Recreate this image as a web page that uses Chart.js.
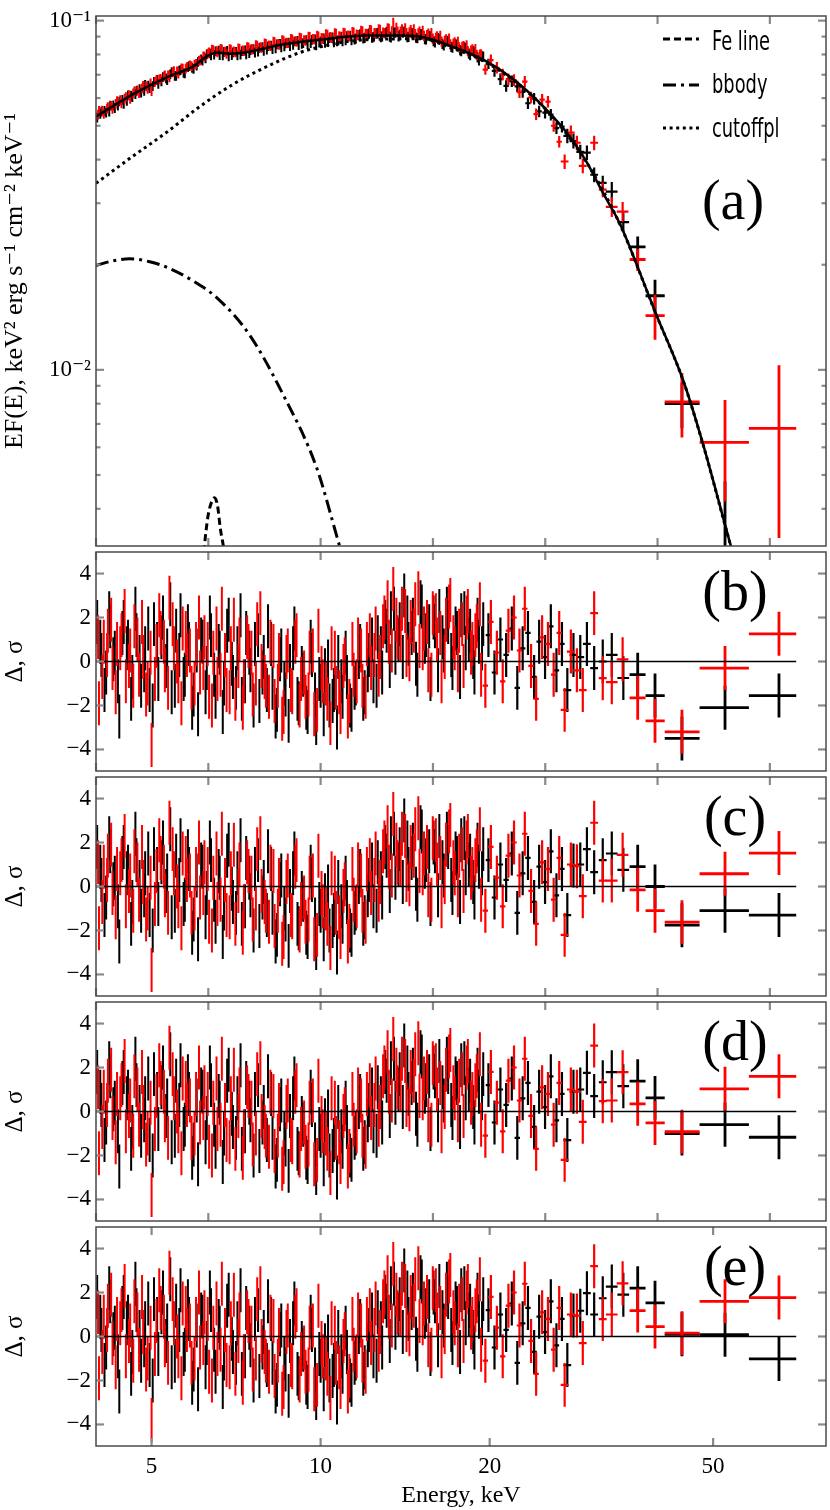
<!DOCTYPE html>
<html>
<head>
<meta charset="utf-8">
<script src="https://cdn.jsdelivr.net/npm/chart.js@4.4.1/dist/chart.umd.min.js"></script>
<style>
html,body{margin:0;padding:0;background:#fff;width:830px;height:1510px;overflow:hidden;position:relative;}
canvas{position:absolute;left:0;}
</style>
</head>
<body>
<script>
// ---------------- DATA ----------------
const X_MIN = 3.981, X_MAX = 79.43;
const X_TICKS_UPPER = [3.981, 6.310, 10, 15.85, 25.12, 39.81, 63.10];
const X_TICKS_BOTTOM = [5, 10, 20, 50];
const X_TICK_LABELS_BOTTOM = ['5', '10', '20', '50'];
const Y_TOP_MIN = 0.00313, Y_TOP_MAX = 0.1031;
const Y_TOP_TICKS = [0.01, 0.1];
const Y_TOP_TICK_LABELS = ['10\u207B\u00B2', '10\u207B\u00B9'];
const Y_TOP_MINOR = [0.004, 0.005, 0.006, 0.007, 0.008, 0.009, 0.02, 0.03, 0.04, 0.05, 0.06, 0.07, 0.08, 0.09];
const RES_MIN = -4.98, RES_MAX = 4.98;
const RES_TICKS = [-4, -2, 0, 2, 4];
const RES_TICK_LABELS = ['\u22124', '\u22122', '0', '2', '4'];
const PANEL_LABELS = ['(a)', '(b)', '(c)', '(d)', '(e)'];
const LEGEND_LABELS = ['Fe line', 'bbody', 'cutoffpl'];
const Y_TITLE_TOP = 'EF(E), keV\u00B2 erg s\u207B\u00B9 cm\u207B\u00B2 keV\u207B\u00B9';
const Y_TITLE_RES = '\u0394, \u03C3';
const X_TITLE = 'Energy, keV';

// Black (module A) narrow bins: energies (keV)
const E_BLACK = [4.00,4.07,4.15,4.22,4.30,4.38,4.46,4.54,4.62,4.70,
 4.79,4.87,4.96,5.05,5.14,5.24,5.33,5.43,5.53,5.63,
 5.73,5.83,5.94,6.05,6.16,6.27,6.38,6.50,6.61,6.73,
 6.86,6.98,7.11,7.24,7.37,7.50,7.64,7.78,7.92,8.06,
 8.21,8.36,8.51,8.66,8.82,8.98,9.14,9.31,9.48,9.65,
 9.82,10.00,10.18,10.37,10.56,10.75,10.94,11.14,11.35,11.55,
 11.76,11.98,12.19,12.42,12.64,12.87,13.11,13.34,13.59,13.83,
 14.09,14.34,14.60,14.87,15.14,15.41,15.69,15.98,16.27,16.57,
 16.87,17.17,17.49,17.80,18.13,18.46,18.79,19.14,19.48,
 19.9,20.4,20.9,21.4,21.9,22.4,22.9,23.4,24.0,24.5,25.1,25.7,26.3,26.9,27.5,
 28.2,29.0,29.8,30.7,31.8,33.0,34.6];
const FLUX_BLACK = [0.0528,0.0549,0.0545,0.0571,0.0562,0.0587,0.0578,0.0611,0.0604,0.0630,
 0.0622,0.0655,0.0641,0.0668,0.0659,0.0690,0.0676,0.0712,0.0695,0.0722,
 0.0706,0.0741,0.0728,0.0762,0.0768,0.0801,0.0795,0.0817,0.0797,0.0814,
 0.0790,0.0811,0.0795,0.0818,0.0801,0.0824,0.0810,0.0836,0.0819,0.0845,
 0.0829,0.0856,0.0838,0.0861,0.0846,0.0872,0.0851,0.0862,0.0857,0.0881,
 0.0850,0.0871,0.0866,0.0893,0.0869,0.0878,0.0874,0.0902,0.0880,0.0889,
 0.0914,0.0893,0.0918,0.0897,0.0921,0.0902,0.0929,0.0896,0.0925,0.0910,
 0.0931,0.0899,0.0918,0.0892,0.0913,0.0885,0.0902,0.0867,0.0886,0.0850,
 0.0871,0.0838,0.0851,0.0818,0.0835,0.0797,0.0812,0.0770,0.0789,
 0.0752,0.0718,0.0680,0.0650,0.0671,0.0648,0.0625,0.0580,0.0598,0.0550,0.0545,0.0538,0.0492,0.0497,0.0468,
 0.0452,0.0421,0.0419,0.0362,0.0343,0.0324,0.0265];
// Additional black bins in the dense 4-19.5 keV range
const E_BLACK_X = [4.051,4.122,4.203,4.274,4.355,4.436,4.517,4.598,4.679,4.760,
 4.851,4.932,5.023,5.115,5.206,5.307,5.398,5.500,5.601,5.702,
 5.803,5.905,6.016,6.127,6.239,6.350,6.462,6.583,6.695,6.816,
 6.948,7.069,7.201,7.333,7.464,7.596,7.738,7.880,8.021,8.163,
 8.315,8.467,8.619,8.771,8.933,9.095,9.257,9.429,9.601,9.774,
 9.946,10.128,10.310,10.503,10.695,10.888,11.080,11.283,11.495,11.698,
 11.911,12.133,12.346,12.579,12.802,13.035,13.278,13.511,13.764,14.007,
 14.270,14.524,14.787,15.060,15.334,15.607,15.891,16.185,16.478,16.782,
 17.086,17.390,17.714,18.028,18.362,18.696,19.031,19.385];
const FLUX_BLACK_X = [0.0541,0.0552,0.0549,0.0572,0.0571,0.0593,0.0589,0.0610,0.0616,0.0637,
 0.0630,0.0652,0.0650,0.0677,0.0670,0.0684,0.0702,0.0695,0.0720,0.0709,
 0.0736,0.0733,0.0744,0.0775,0.0780,0.0806,0.0799,0.0821,0.0795,0.0820,
 0.0797,0.0815,0.0800,0.0822,0.0808,0.0829,0.0815,0.0840,0.0826,0.0849,
 0.0833,0.0859,0.0844,0.0866,0.0852,0.0875,0.0858,0.0880,0.0862,0.0884,
 0.0866,0.0888,0.0870,0.0895,0.0874,0.0899,0.0880,0.0904,0.0885,0.0909,
 0.0890,0.0913,0.0895,0.0919,0.0897,0.0922,0.0900,0.0924,0.0902,0.0925,
 0.0898,0.0921,0.0894,0.0915,0.0886,0.0905,0.0874,0.0892,0.0858,0.0876,
 0.0842,0.0857,0.0824,0.0838,0.0805,0.0818,0.0786,0.0790];

// Red (module B) narrow bins
const E_RED = [4.03,4.11,4.18,4.26,4.34,4.42,4.50,4.58,4.66,4.75,
 4.83,4.92,5.00,5.10,5.19,5.28,5.38,5.48,5.58,5.68,
 5.78,5.89,6.00,6.10,6.21,6.33,6.44,6.55,6.67,6.80,
 6.92,7.05,7.17,7.30,7.44,7.57,7.71,7.85,7.99,8.14,
 8.28,8.43,8.59,8.74,8.90,9.06,9.23,9.40,9.56,9.74,
 9.91,10.09,10.28,10.46,10.65,10.85,11.04,11.25,11.45,11.66,
 11.87,12.09,12.30,12.53,12.76,12.99,13.23,13.47,13.71,13.96,
 14.22,14.47,14.74,15.00,15.28,15.55,15.84,16.12,16.42,16.72,
 17.02,17.33,17.65,17.97,18.29,18.63,18.97,19.31,
 19.65,20.1,20.6,21.1,21.6,22.1,22.6,23.1,23.7,24.2,24.8,25.4,26.0,26.6,27.2,
 27.9,28.6,29.3,30.7,31.8,33.0,34.5];
const FLUX_RED = [0.0552,0.0541,0.0566,0.0559,0.0589,0.0580,0.0604,0.0597,0.0628,0.0620,
 0.0651,0.0638,0.0629,0.0676,0.0681,0.0697,0.0688,0.0717,0.0705,0.0729,
 0.0737,0.0741,0.0752,0.0770,0.0789,0.0812,0.0824,0.0811,0.0828,0.0803,
 0.0826,0.0812,0.0830,0.0818,0.0839,0.0826,0.0849,0.0836,0.0858,0.0845,
 0.0869,0.0853,0.0877,0.0862,0.0884,0.0870,0.0891,0.0876,0.0899,0.0884,
 0.0902,0.0889,0.0911,0.0893,0.0916,0.0898,0.0920,0.0903,0.0925,0.0909,
 0.0932,0.0915,0.0938,0.0918,0.0941,0.0921,0.0947,0.0985,0.0930,0.0944,
 0.0922,0.0939,0.0915,0.0930,0.0905,0.0918,0.0889,0.0901,0.0871,0.0884,
 0.0856,0.0867,0.0839,0.0846,0.0818,0.0827,0.0798,0.0801,
 0.0724,0.0771,0.0733,0.0702,0.0680,0.0676,0.0624,0.0669,0.0603,0.0540,0.0594,0.0586,0.0500,0.0450,0.0395,
 0.0478,0.0447,0.0384,0.0447,0.0328,0.0293,0.0284];
// Additional red bins in the dense range
const E_RED_X = [4.015,4.085,4.166,4.236,4.316,4.397,4.477,4.557,4.638,4.718,
 4.808,4.889,4.979,5.069,5.160,5.260,5.350,5.451,5.551,5.651,
 5.752,5.852,5.963,6.073,6.183,6.294,6.404,6.525,6.635,6.756,
 6.886,7.007,7.137,7.268,7.398,7.529,7.669,7.810,7.950,8.091,
 8.241,8.392,8.542,8.693,8.854,9.014,9.175,9.345,9.516,9.687,
 9.857,10.038,10.219,10.409,10.600,10.791,10.982,11.182,11.393,11.594,
 11.805,12.026,12.236,12.467,12.688,12.919,13.160,13.391,13.642,13.883,
 14.144,14.394,14.655,14.927,15.198,15.469,15.750,16.041,16.332,16.633,
 16.934,17.235,17.556,17.868,18.199,18.530,18.861,19.213];
const FLUX_RED_X = [0.0538,0.0553,0.0560,0.0570,0.0578,0.0592,0.0598,0.0612,0.0619,0.0632,
 0.0640,0.0649,0.0662,0.0668,0.0679,0.0693,0.0698,0.0711,0.0716,0.0730,
 0.0729,0.0745,0.0749,0.0768,0.0791,0.0805,0.0826,0.0818,0.0831,0.0816,
 0.0829,0.0817,0.0834,0.0823,0.0840,0.0831,0.0852,0.0840,0.0861,0.0850,
 0.0872,0.0858,0.0880,0.0866,0.0887,0.0874,0.0894,0.0880,0.0901,0.0887,
 0.0906,0.0892,0.0913,0.0897,0.0919,0.0901,0.0923,0.0906,0.0928,0.0912,
 0.0935,0.0917,0.0940,0.0921,0.0944,0.0924,0.0950,0.0932,0.0953,0.0930,
 0.0950,0.0926,0.0944,0.0920,0.0935,0.0909,0.0922,0.0893,0.0905,0.0876,
 0.0888,0.0860,0.0870,0.0842,0.0850,0.0821,0.0829,0.0800];

// Relative flux errors by energy band (band lower edges, keV)
const FLUX_REL_ERR_EDGES = [0, 10, 20, 27, 32];
const FLUX_REL_ERR = [0.032, 0.034, 0.038, 0.048, 0.065];
// Relative half-widths of narrow bins by band
const BIN_HW_EDGES = [0, 19.5, 27, 32];
const BIN_HW = [0.004, 0.011, 0.016, 0.024];

// Wide high-energy bins (shared by both modules)
const TAIL_E = [36.7, 39.4, 44.0, 52.5, 65.5];
const TAIL_LO = [35.5, 37.9, 41.0, 47.3, 57.9];
const TAIL_HI = [37.9, 41.0, 47.3, 57.9, 70.3];
const TAIL_FLUX_BLACK = [0.0225, 0.0163, 0.0080, 0.0021, 0.0008];
const TAIL_FERR_BLACK = [0.0016, 0.0018, 0.0012, 0.0027, 0.0022];
const TAIL_FLUX_RED = [0.0207, 0.0143, 0.0081, 0.0062, 0.0068];
const TAIL_FERR_RED = [0.0015, 0.0021, 0.0017, 0.0020, 0.0035];

// Residuals (sigma). Low-energy part is common to panels b-e
const RES_BLACK_LOW = [1.8,0.3,-0.5,1.6,0.4,-2.5,1.8,0.9,-0.7,1.2,
 -1.1,0.6,-1.3,1.7,-0.8,2.0,0.5,-1.4,1.4,2.1,
 -0.6,0.8,-1.5,-2.4,0.9,-0.3,1.2,-1.6,0.4,-1.0,
 1.9,-0.7,0.6,-1.7,1.3,-0.4,0.8,-1.8,0.2,1.6,
 -1.2,-2.2,0.5,-1.5,-0.2,1.5,-1.9,-0.6,-2.3,0.3,
 -2.8,-1.1,-0.4,-2.0,-1.3,0.2,-1.6,-0.7,-2.2,-1.0,
 0.7,-1.4,0.3,-0.9,1.1,-0.5,1.4,2.2,0.4,1.7,
 3.0,0.8,1.9,-0.6,2.5,1.2,-0.8,1.6,2.3,0.5,
 1.8,-0.3,1.3,2.1,0.6,1.4,-0.5,0.9,1.7,
 1.2,-0.5,1.0,0.3,1.5,-1.2,0.6,1.3,-0.7,0.9,0.2,1.6,-0.4,0.8,-1.3];
const RES_BLACK_X = [0.9,-1.3,2.2,0.1,-0.9,1.3,0.6,-1.7,2.4,0.2,
 -0.4,1.5,-2.0,0.8,1.1,-0.2,2.6,-1.1,0.3,-0.8,
 1.6,-2.1,0.5,1.0,-1.4,2.0,-0.6,0.7,-2.3,1.4,
 -0.1,-1.2,2.1,-0.9,0.4,-2.0,1.2,-0.5,-1.3,0.8,
 -2.5,0.1,-1.0,-2.7,0.6,-1.7,-0.3,-2.1,0.9,-1.5,
 -0.8,-2.4,0.0,-1.8,-3.0,-0.9,0.4,-2.0,-1.2,0.2,
 -1.7,-0.4,1.0,-1.1,0.6,1.8,-0.2,2.4,1.0,0.2,
 2.0,1.3,-0.1,2.7,0.9,1.6,2.0,-0.4,1.1,2.4,
 0.3,1.5,-0.7,2.2,1.0,0.2,1.9,0.6];
const RES_RED_LOW = [-1.9,0.9,1.4,-0.3,0.8,1.2,-0.9,0.5,1.6,-0.6,
 0.2,-1.0,-3.8,0.7,1.3,-0.4,2.9,0.6,-0.9,1.5,
 0.3,-1.2,0.8,-0.5,1.1,-1.6,0.4,-0.8,2.4,-1.3,
 0.6,-1.7,1.0,-0.9,0.7,-1.5,1.7,-0.2,-1.1,0.9,
 -1.8,0.3,-2.3,0.5,-1.4,1.2,-0.8,-1.6,0.4,-2.4,
 1.4,-0.9,-1.7,0.6,-1.2,-2.3,0.1,-1.8,-0.6,1.0,
 -1.1,0.8,-0.3,1.5,0.2,2.0,0.9,3.3,1.1,2.4,
 0.3,1.8,2.6,0.7,1.5,-0.4,2.2,1.0,-0.9,1.9,
 2.8,0.6,1.4,-0.2,2.3,0.8,1.6,-0.6,
 -1.1,1.8,0.4,-0.9,1.4,2.0,0.5,2.4,-0.2,-1.7,1.1,0.8,-0.6,1.3,-2.2];
const RES_RED_X = [1.1,-0.7,0.3,1.9,-1.4,0.6,2.3,-0.2,-1.1,1.0,
 1.8,-1.5,0.4,-0.8,2.1,0.9,-1.2,1.7,0.0,-1.9,
 1.3,0.5,-1.0,2.0,-0.3,0.8,-2.0,1.5,-0.6,0.3,
 -1.4,1.9,-0.2,-2.1,1.1,0.4,-1.0,2.2,-0.7,-1.6,
 0.7,-1.1,-2.6,0.2,-1.3,0.9,-2.0,-0.5,-1.5,0.5,
 -2.2,-0.3,-1.0,-2.8,0.4,-1.4,-0.2,-2.5,0.8,-0.9,
 0.5,-1.6,1.2,0.3,-0.6,1.6,2.7,0.5,1.9,1.0,
 2.3,0.1,1.4,3.1,0.6,1.8,-0.6,2.1,1.3,0.2,
 2.5,1.1,-0.4,1.7,2.0,0.4,1.2,2.6];
// Panel-specific residuals, E >= ~28 keV (7 narrow bins + 5 wide bins)
const RES_BLACK_HIGH_B = [0.3,0.2,0.8,-0.3,0.0,0.3,-0.75,-0.6,-1.55,-3.5,-2.1,-1.55];
const RES_BLACK_HIGH_C = [0.95,1.0,1.7,0.65,1.2,1.5,0.76,0.9,0.0,-1.76,-1.1,-1.3];
const RES_BLACK_HIGH_D = [0.9,1.0,1.76,0.7,1.33,1.79,1.15,1.38,0.62,-1.0,-0.6,-1.17];
const RES_BLACK_HIGH_E = [0.95,1.17,1.97,1.0,1.74,2.27,1.9,2.2,1.53,0.1,0.08,-1.02];
const RES_RED_HIGH_B = [0.45,-0.4,-1.3,2.2,-0.76,-0.94,0.1,-1.65,-2.7,-3.2,-0.3,1.26];
const RES_RED_HIGH_C = [1.0,0.92,-0.44,2.9,0.27,0.27,1.44,-0.15,-1.1,-1.62,0.58,1.52];
const RES_RED_HIGH_D = [1.0,0.9,-0.47,3.0,0.47,0.5,1.79,0.35,-0.52,-0.92,1.03,1.6];
const RES_RED_HIGH_E = [1.0,0.95,-0.3,3.2,0.79,1.0,2.42,1.18,0.45,0.15,1.6,1.77];
const RES_SIGMA = 1;

// Model components
const MODEL_TOTAL_E = [3.98,4.62,5.31,5.92,6.26,6.53,6.97,7.47,8.56,10.0,12.08,13.83,15.02,17.19,19.77,22.63,25.92,27.79,29.81,31.83,34.12,36.56,39.5,44.2,47.9,53.6,54.5];
const MODEL_TOTAL_F = [0.0531,0.0614,0.0687,0.0738,0.0789,0.0810,0.0804,0.0815,0.0854,0.0882,0.0906,0.0906,0.0900,0.0842,0.0763,0.0656,0.0531,0.0465,0.0392,0.0321,0.0262,0.0200,0.01455,0.00935,0.00618,0.00319,0.0029];
const CUTOFFPL_E = [3.98,4.62,5.31,6.09,6.97,8.01,9.18,10.0,11.27,12.9,15.02,17.19,19.77,22.63,25.92,29.81,34.12,39.5,44.2,47.9,53.6,54.5];
const CUTOFFPL_F = [0.0342,0.0408,0.0478,0.0567,0.0656,0.0738,0.0810,0.0842,0.0873,0.0885,0.0887,0.0833,0.0757,0.0652,0.0529,0.0391,0.0261,0.01452,0.00933,0.00617,0.00318,0.0029];
const BBODY_E = [3.98,4.26,4.57,4.96,5.31,5.92,6.53,7.47,8.56,9.84,10.81,11.2];
const BBODY_F = [0.0199,0.0205,0.0208,0.0204,0.0197,0.0180,0.0161,0.0126,0.00854,0.00524,0.00313,0.0026];
const FELINE_E = [6.15,6.21,6.30,6.40,6.47,6.55,6.63,6.71,6.78];
const FELINE_F = [0.0026,0.00313,0.0038,0.0042,0.0043,0.0041,0.0035,0.00313,0.0027];
const ZERO_LINE_E = [3.98, 70.3];
const ZERO_LINE_V = [0, 0];

// ---------------- STYLE / HELPERS ----------------
const SERIF = "'Liberation Serif', 'DejaVu Serif', serif";
const SANS_NARROW = "'Liberation Sans Narrow', 'DejaVu Sans Condensed', 'Liberation Sans', 'DejaVu Sans', sans-serif";
const BLACK = '#000000', RED = '#ff0000';

function band(edges, vals, e) { let v = vals[0]; for (let i = 0; i < edges.length; i++) if (e >= edges[i]) v = vals[i]; return v; }
function lwFor(e) { return e < 19.6 ? 2.0 : 2.2; }

function narrowFluxPoint(e, f) {
  const rel = band(FLUX_REL_ERR_EDGES, FLUX_REL_ERR, e);
  const hw = band(BIN_HW_EDGES, BIN_HW, e);
  return {x: e, y: f, yLo: f * (1 - rel), yHi: f * (1 + rel), xLo: e * (1 - hw), xHi: e * (1 + hw), lw: lwFor(e)};
}
function narrowResPoint(e, r) {
  const hw = band(BIN_HW_EDGES, BIN_HW, e);
  return {x: e, y: r, yLo: r - RES_SIGMA, yHi: r + RES_SIGMA, xLo: e * (1 - hw), xHi: e * (1 + hw), lw: lwFor(e)};
}
function fluxPoints(E, F, EX, FX, tF, tErr) {
  const pts = [];
  for (let i = 0; i < Math.min(E.length, F.length); i++) pts.push(narrowFluxPoint(E[i], F[i]));
  for (let i = 0; i < Math.min(EX.length, FX.length); i++) pts.push(narrowFluxPoint(EX[i], FX[i]));
  for (let i = 0; i < TAIL_E.length; i++) {
    pts.push({x: TAIL_E[i], y: tF[i], yLo: tF[i] - tErr[i], yHi: tF[i] + tErr[i], xLo: TAIL_LO[i], xHi: TAIL_HI[i], lw: 2.8});
  }
  return pts;
}
function resPoints(E, res, EX, RX) {
  const pts = [];
  for (let i = 0; i < Math.min(E.length, res.length); i++) pts.push(narrowResPoint(E[i], res[i]));
  for (let i = 0; i < Math.min(EX.length, RX.length); i++) pts.push(narrowResPoint(EX[i], RX[i]));
  for (let k = 0; k < TAIL_E.length; k++) {
    const r = res[E.length + k];
    if (r === undefined) continue;
    pts.push({x: TAIL_E[k], y: r, yLo: r - RES_SIGMA, yHi: r + RES_SIGMA, xLo: TAIL_LO[k], xHi: TAIL_HI[k], lw: 2.8});
  }
  return pts;
}
function xy(xs, ys) { return xs.map((v, i) => ({x: v, y: ys[i]})); }

function drawErrorBars(chart) {
  const {ctx, chartArea: a, scales} = chart;
  const xs = scales.x, ys = scales.y;
  const isLog = ys.type === 'logarithmic';
  ctx.save();
  ctx.beginPath(); ctx.rect(a.left, a.top, a.right - a.left, a.bottom - a.top); ctx.clip();
  ctx.lineCap = 'butt';
  chart.data.datasets.forEach(ds => {
    if (!ds.errorBars) return;
    ctx.strokeStyle = ds.borderColor;
    ds.data.forEach(p => {
      const px = xs.getPixelForValue(p.x);
      const py = (isLog && p.y <= 0) ? a.bottom + 20 : ys.getPixelForValue(p.y);
      const y1 = (isLog && p.yLo <= 0) ? a.bottom + 20 : ys.getPixelForValue(p.yLo);
      const y2 = ys.getPixelForValue(p.yHi);
      const x1 = xs.getPixelForValue(p.xLo), x2 = xs.getPixelForValue(p.xHi);
      ctx.lineWidth = p.lw;
      ctx.beginPath();
      ctx.moveTo(px, y1); ctx.lineTo(px, y2);
      ctx.moveTo(x1, py); ctx.lineTo(x2, py);
      ctx.stroke();
    });
  });
  ctx.restore();
}

const decor = {
  id: 'decor',
  beforeDatasetsDraw(chart) { drawErrorBars(chart); },
  afterDraw(chart) {
    const o = chart.options.plugins.decor;
    if (!o) return;
    const {ctx, chartArea: a, scales} = chart;
    const xs = scales.x, ys = scales.y;
    ctx.save();
    const seg = (x1, y1, x2, y2) => { ctx.beginPath(); ctx.moveTo(x1, y1); ctx.lineTo(x2, y2); ctx.stroke(); };
    ctx.strokeStyle = '#8a8a8a'; ctx.lineWidth = 2.2; ctx.lineCap = 'butt';
    o.xTicks.forEach(v => {
      const px = xs.getPixelForValue(v);
      if (px < a.left - 1 || px > a.right + 1) return;
      seg(px, a.top, px, a.top + 8); seg(px, a.bottom, px, a.bottom - 8);
    });
    o.yMajor.forEach(v => {
      const py = ys.getPixelForValue(v);
      seg(a.left, py, a.left + 8, py); seg(a.right, py, a.right - 8, py);
    });
    (o.yMinor || []).forEach(v => {
      const py = ys.getPixelForValue(v);
      seg(a.left, py, a.left + 4.5, py); seg(a.right, py, a.right - 4.5, py);
    });
    ctx.strokeStyle = '#4a4a4a'; ctx.lineWidth = 1.5;
    ctx.strokeRect(a.left, a.top, a.right - a.left, a.bottom - a.top);
    ctx.fillStyle = '#000';
    // bottom tick labels (panel e), placed through the x scale
    if (o.xLabels) {
      ctx.font = '23px ' + SERIF;
      ctx.textAlign = 'center'; ctx.textBaseline = 'middle';
      o.xTicks.forEach((v, i) => ctx.fillText(o.xLabels[i], xs.getPixelForValue(v), a.bottom + 21));
    }
    ctx.font = '56px ' + SERIF;
    ctx.textAlign = 'center'; ctx.textBaseline = 'middle';
    ctx.fillText(o.label, o.labelX, o.labelY);
    if (o.legend) {
      ctx.font = '27px ' + SANS_NARROW;
      const sx = 58 / ctx.measureText(LEGEND_LABELS[0]).width;
      LEGEND_LABELS.forEach((lab, i) => {
        const ds = chart.data.datasets.find(d => d.label === lab);
        const ly = o.legendLineY[i];
        ctx.strokeStyle = '#000';
        ctx.lineWidth = ds.borderWidth;
        ctx.setLineDash(ds.borderDash || []);
        seg(663, ly, 699, ly);
        ctx.setLineDash([]);
        ctx.save();
        ctx.translate(712, o.legendTextY[i]);
        ctx.scale(sx, 1);
        ctx.textAlign = 'left'; ctx.textBaseline = 'alphabetic';
        ctx.fillText(lab, 0, 0);
        ctx.restore();
      });
    }
    ctx.restore();
  }
};
Chart.register(decor);

function makeCanvas(top, height) {
  const c = document.createElement('canvas');
  c.width = 830; c.height = height;
  c.style.top = top + 'px';
  c.style.width = '830px'; c.style.height = height + 'px';
  document.body.appendChild(c);
  return c;
}

const commonOpts = {
  responsive: false, animation: false, devicePixelRatio: 1, events: [],
  plugins: {legend: {display: false}, tooltip: {enabled: false}}
};

function yAxisFit(s) { s.width = 96; s.paddingTop = 0; s.paddingBottom = 0; s.paddingLeft = 0; s.paddingRight = 0; }
function xAxisFit(s) { s.height = 64; s.paddingTop = 0; s.paddingBottom = 0; s.paddingLeft = 0; s.paddingRight = 0; }

// ---------------- PANEL (a) ----------------
const cA = makeCanvas(0, 552);
new Chart(cA, {
  type: 'scatter',
  data: {datasets: [
    {label: 'FPMA', data: fluxPoints(E_BLACK, FLUX_BLACK, E_BLACK_X, FLUX_BLACK_X, TAIL_FLUX_BLACK, TAIL_FERR_BLACK), errorBars: true, borderColor: BLACK, pointRadius: 0, showLine: false},
    {label: 'FPMB', data: fluxPoints(E_RED, FLUX_RED, E_RED_X, FLUX_RED_X, TAIL_FLUX_RED, TAIL_FERR_RED), errorBars: true, borderColor: RED, pointRadius: 0, showLine: false},
    {label: 'total', type: 'line', data: xy(MODEL_TOTAL_E, MODEL_TOTAL_F), borderColor: BLACK, borderWidth: 2.5, pointRadius: 0, fill: false, cubicInterpolationMode: 'monotone'},
    {label: 'Fe line', type: 'line', data: xy(FELINE_E, FELINE_F), borderColor: BLACK, borderWidth: 3, borderDash: [7, 4], pointRadius: 0, fill: false, cubicInterpolationMode: 'monotone'},
    {label: 'bbody', type: 'line', data: xy(BBODY_E, BBODY_F), borderColor: BLACK, borderWidth: 3, borderDash: [13, 5, 3, 5], pointRadius: 0, fill: false, cubicInterpolationMode: 'monotone'},
    {label: 'cutoffpl', type: 'line', data: xy(CUTOFFPL_E, CUTOFFPL_F), borderColor: BLACK, borderWidth: 3, borderDash: [3, 3.6], pointRadius: 0, fill: false, cubicInterpolationMode: 'monotone'}
  ]},
  options: Object.assign({}, commonOpts, {
    layout: {padding: {top: 16, bottom: 6, left: 0, right: 4}},
    scales: {
      x: {type: 'logarithmic', display: false, min: X_MIN, max: X_MAX},
      y: {type: 'logarithmic', min: Y_TOP_MIN, max: Y_TOP_MAX,
        afterFit: yAxisFit,
        afterBuildTicks: s => { s.ticks = Y_TOP_TICKS.map(v => ({value: v})); },
        grid: {display: false, drawTicks: false}, border: {display: false},
        ticks: {autoSkip: false, padding: 5, color: '#000', font: {family: SERIF, size: 23}, callback: (v, i) => Y_TOP_TICK_LABELS[i]},
        title: {display: true, text: Y_TITLE_TOP, color: '#000', font: {family: SERIF, size: 26}, padding: {top: 0, bottom: 0}}
      }
    },
    plugins: Object.assign({}, commonOpts.plugins, {
      decor: {xTicks: X_TICKS_UPPER, yMajor: Y_TOP_TICKS, yMinor: Y_TOP_MINOR, label: PANEL_LABELS[0], labelX: 733, labelY: 204,
        legend: true, legendLineY: [39, 85, 128], legendTextY: [50, 93, 137]}
    })
  })
});

// ---------------- RESIDUAL PANELS ----------------
const RES_PANELS = [
  {top: 546, h: 231, black: RES_BLACK_HIGH_B, red: RES_RED_HIGH_B, label: PANEL_LABELS[1], labelY: 595},
  {top: 771, h: 231, black: RES_BLACK_HIGH_C, red: RES_RED_HIGH_C, label: PANEL_LABELS[2], labelY: 820},
  {top: 996, h: 231, black: RES_BLACK_HIGH_D, red: RES_RED_HIGH_D, label: PANEL_LABELS[3], labelY: 1045},
  {top: 1221, h: 289, black: RES_BLACK_HIGH_E, red: RES_RED_HIGH_E, label: PANEL_LABELS[4], labelY: 1270, bottom: true}
];

RES_PANELS.forEach(p => {
  const c = makeCanvas(p.top, p.h);
  const xScale = p.bottom ? {
    type: 'logarithmic', min: X_MIN, max: X_MAX, display: true,
    afterFit: xAxisFit,
    grid: {display: false, drawTicks: false}, border: {display: false},
    ticks: {display: false},
    title: {display: true, text: X_TITLE, color: '#000', font: {family: SERIF, size: 24}, padding: {top: 0, bottom: 0}}
  } : {type: 'logarithmic', min: X_MIN, max: X_MAX, display: false};
  new Chart(c, {
    type: 'scatter',
    data: {datasets: [
      {label: 'FPMA', data: resPoints(E_BLACK, RES_BLACK_LOW.concat(p.black), E_BLACK_X, RES_BLACK_X), errorBars: true, borderColor: BLACK, pointRadius: 0, showLine: false},
      {label: 'FPMB', data: resPoints(E_RED, RES_RED_LOW.concat(p.red), E_RED_X, RES_RED_X), errorBars: true, borderColor: RED, pointRadius: 0, showLine: false},
      {label: 'zero', type: 'line', data: xy(ZERO_LINE_E, ZERO_LINE_V), borderColor: BLACK, borderWidth: 1.6, pointRadius: 0, fill: false}
    ]},
    options: Object.assign({}, commonOpts, {
      layout: {padding: {top: 6, bottom: p.bottom ? 0 : 6, left: 0, right: 4}},
      scales: {
        x: xScale,
        y: {type: 'linear', min: RES_MIN, max: RES_MAX,
          afterFit: yAxisFit,
          afterBuildTicks: s => { s.ticks = RES_TICKS.map(v => ({value: v})); },
          grid: {display: false, drawTicks: false}, border: {display: false},
          ticks: {autoSkip: false, padding: 5, color: '#000', font: {family: SERIF, size: 23}, callback: (v, i) => RES_TICK_LABELS[i]},
          title: {display: true, text: Y_TITLE_RES, color: '#000', font: {family: SERIF, size: 25}, padding: {top: 0, bottom: 0}}
        }
      },
      plugins: Object.assign({}, commonOpts.plugins, {
        decor: {xTicks: p.bottom ? X_TICKS_BOTTOM : X_TICKS_UPPER, xLabels: p.bottom ? X_TICK_LABELS_BOTTOM : null,
          yMajor: RES_TICKS, label: p.label, labelX: 735, labelY: p.labelY - p.top}
      })
    })
  });
});
</script>
</body>
</html>
